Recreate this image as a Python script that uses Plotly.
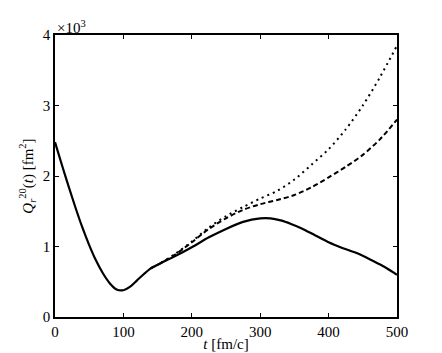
import plotly.graph_objects as go

# time in fm/c, Q in units of 10^3 fm^2
t_solid = [0, 10, 20, 30, 40, 50, 60, 70, 80, 90, 100, 110, 120, 130, 140, 150, 160, 175, 200,
           225, 250, 275, 300, 315, 330, 345, 360, 380, 400, 420, 440, 460, 480, 500]
q_solid = [2.48, 2.16, 1.85, 1.55, 1.27, 1.02, 0.80, 0.62, 0.48, 0.39, 0.38, 0.43, 0.52, 0.61, 0.69,
           0.74, 0.79, 0.86, 0.99, 1.13, 1.25, 1.35, 1.40, 1.40, 1.37, 1.32, 1.26, 1.16, 1.06, 0.98,
           0.91, 0.82, 0.72, 0.60]

t_dash = [140, 150, 175, 200, 225, 250, 275, 300, 325, 350, 375, 400, 425, 450, 475, 500]
q_dash = [0.69, 0.74, 0.88, 1.06, 1.25, 1.40, 1.52, 1.60, 1.66, 1.73, 1.84, 1.98, 2.13, 2.30, 2.52, 2.80]

t_dot = [140, 150, 175, 200, 225, 250, 275, 300, 325, 350, 375, 400, 425, 450, 475, 500]
q_dot = [0.69, 0.74, 0.89, 1.07, 1.27, 1.43, 1.56, 1.68, 1.79, 1.95, 2.16, 2.38, 2.66, 3.00, 3.40, 3.85]

x_ticks = [0, 100, 200, 300, 400, 500]
y_ticks = [0, 1, 2, 3, 4]

serif = "Liberation Serif, Times New Roman, Times, serif"

fig = go.Figure()
fig.add_trace(go.Scatter(x=t_dot, y=q_dot, mode="lines",
                         line=dict(color="black", width=2, dash="2px,4px", shape="spline", smoothing=0.8)))
fig.add_trace(go.Scatter(x=t_dash, y=q_dash, mode="lines",
                         line=dict(color="black", width=2, dash="5px,3px", shape="spline", smoothing=0.8)))
fig.add_trace(go.Scatter(x=t_solid, y=q_solid, mode="lines",
                         line=dict(color="black", width=2.2, shape="spline", smoothing=0.8)))

axis_common = dict(showgrid=False, zeroline=False, showline=True, linecolor="black", linewidth=1.5,
                   mirror="ticks", ticks="inside", ticklen=4, tickcolor="black", automargin=False,
                   tickfont=dict(family=serif, size=15, color="black"))

fig.update_xaxes(range=[0, 500], tickvals=x_ticks,
                 title=dict(text="<i>t</i> [fm/c]", font=dict(family=serif, size=15, color="black"),
                            standoff=0),
                 **axis_common)
fig.update_yaxes(range=[0, 4], tickvals=y_ticks,
                 title=dict(text="<i>Q</i><sub><i>r</i></sub><sup>20</sup>(<i>t</i>) [fm<sup>2</sup>]",
                            font=dict(family=serif, size=15, color="black"), standoff=6),
                 **axis_common)

fig.add_annotation(text="×10<sup>3</sup>", xref="paper", yref="paper", x=0, y=1,
                   xanchor="left", yanchor="bottom", showarrow=False, yshift=-3,
                   font=dict(family=serif, size=15, color="black"))

# page body has an 8px margin, so the figure is a bit smaller than the window
fig.update_layout(width=434, height=345, showlegend=False,
                  font=dict(family=serif, color="black"),
                  margin=dict(l=47, r=45, t=27, b=36),
                  plot_bgcolor="white", paper_bgcolor="white")

fig.write_html("out.html")
